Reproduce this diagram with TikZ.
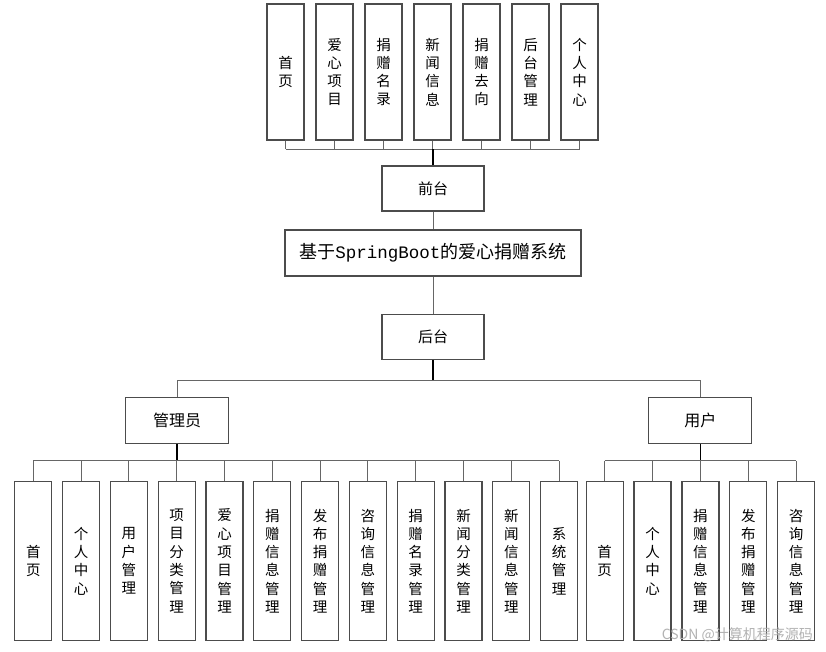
\documentclass[tikz,border=0pt]{standalone}
\usepackage{fontspec}
\newfontfamily\cjk{Noto Sans CJK SC}
\newfontfamily\monof{Liberation Mono}
\begin{document}
\begin{tikzpicture}[x=1pt,y=-1pt,
  box/.style={draw=black!70,line width=1.3pt,fill=white,inner sep=0pt,align=center},
  vbox/.style={box,minimum width=37pt,font=\cjk\fontsize{14.5}{18.3}\selectfont},
  hbox/.style={box,minimum width=102pt,minimum height=45pt,font=\cjk\fontsize{15}{18}\selectfont},
  rbox/.style={box,minimum width=103pt,minimum height=46pt,font=\cjk\fontsize{16}{18}\selectfont},
  conn/.style={draw=black!60,line width=1pt},
  trunk/.style={draw=black,line width=1.4pt}]
\useasboundingbox (0,0) rectangle (826,651);
\fill[white] (0,0) rectangle (826,651);

% top row
\foreach \i/\t [count=\k from 0] in {t1/首\\页,t2/爱\\心\\项\\目,t3/捐\\赠\\名\\录,t4/新\\闻\\信\\息,t5/捐\\赠\\去\\向,t6/后\\台\\管\\理,t7/个\\人\\中\\心}
  \node[vbox,minimum height=136pt] (\i) at (285.5+49*\k,72) {\t};

\node[hbox] (qt) at (433,188.5) {前台};
\node[box,minimum width=296pt,minimum height=46pt,font=\cjk\fontsize{18}{20}\selectfont] (sys) at (433,253) {基于{\monof\fontsize{17.5}{20}\selectfont SpringBoot}的爱心捐赠系统};
\node[hbox] (ht) at (433,337) {后台};
\node[rbox] (adm) at (177,420.5) {管理员};
\node[rbox] (usr) at (700.3,420.5) {用户};

% admin children
\foreach \i/\t [count=\k from 0] in {a1/首\\页,a2/个\\人\\中\\心,a3/用\\户\\管\\理,a4/项\\目\\分\\类\\管\\理,a5/爱\\心\\项\\目\\管\\理,a6/捐\\赠\\信\\息\\管\\理,a7/发\\布\\捐\\赠\\管\\理,a8/咨\\询\\信\\息\\管\\理,a9/捐\\赠\\名\\录\\管\\理,a10/新\\闻\\分\\类\\管\\理,a11/新\\闻\\信\\息\\管\\理,a12/系\\统\\管\\理}
  \node[vbox,minimum height=159pt] (\i) at (33.3+47.8*\k,561) {\t};

% user children
\foreach \i/\t [count=\k from 0] in {u1/首\\页,u2/个\\人\\中\\心,u3/捐\\赠\\信\\息\\管\\理,u4/发\\布\\捐\\赠\\管\\理,u5/咨\\询\\信\\息\\管\\理}
  \node[vbox,minimum height=159pt] (\i) at (604.7+47.85*\k,561) {\t};

% connectors: top
\coordinate (barT) at (433,149);
\foreach \i in {t1,t2,t3,t4,t5,t6,t7}
  \draw[conn] (\i.south) -- (\i.south |- barT);
\draw[conn] (t1.south |- barT) -- (t7.south |- barT);
\draw[trunk] (barT) -- (qt.north);
\draw[conn] (qt.south) -- (sys.north);
\draw[conn] (sys.south) -- (ht.north);

% connectors: back-end split
\coordinate (barM) at (433,380.3);
\draw[trunk] (ht.south) -- (barM);
\draw[conn] (adm.north) |- (barM) -| (usr.north);

% admin bar
\coordinate (barA) at (177,460.7);
\draw[trunk] (adm.south) -- (barA);
\foreach \i in {a1,a2,a3,a4,a5,a6,a7,a8,a9,a10,a11,a12}
  \draw[conn] (\i.north) -- (\i.north |- barA);
\draw[conn] (a1.north |- barA) -- (a12.north |- barA);

% user bar
\coordinate (barU) at (700.3,460.7);
\draw[trunk] (usr.south) -- (barU);
\foreach \i in {u1,u2,u3,u4,u5}
  \draw[conn] (\i.north) -- (\i.north |- barU);
\draw[conn] (u1.north |- barU) -- (u5.north |- barU);

% watermark
\node[anchor=east,text=black!30,font=\cjk\fontsize{14}{15}\selectfont,inner sep=0pt] (wm) at (813,635) {CSDN @计算机程序源码};
\end{tikzpicture}
\end{document}
